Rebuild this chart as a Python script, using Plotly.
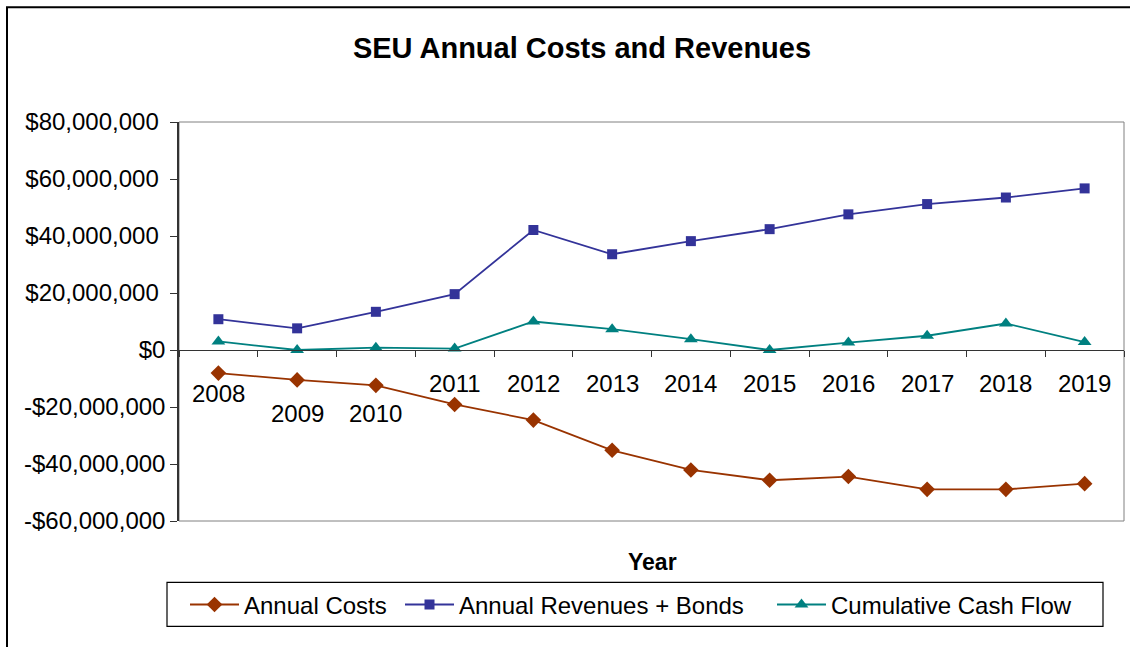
import plotly.graph_objects as go

years = ["2008", "2009", "2010", "2011", "2012", "2013", "2014", "2015", "2016", "2017", "2018", "2019"]
annual_costs = [-8.1e6, -10.5e6, -12.4e6, -19.1e6, -24.6e6, -35.2e6, -42.1e6, -45.7e6, -44.4e6, -48.9e6, -48.9e6, -46.9e6]
annual_revenues_bonds = [10.8e6, 7.6e6, 13.4e6, 19.6e6, 42.1e6, 33.6e6, 38.2e6, 42.4e6, 47.6e6, 51.2e6, 53.5e6, 56.7e6]
cumulative_cash_flow = [3.0e6, 0.0, 0.8e6, 0.5e6, 10.0e6, 7.3e6, 3.8e6, 0.0, 2.6e6, 5.0e6, 9.3e6, 2.8e6]
y_tick_vals = [-60e6, -40e6, -20e6, 0, 20e6, 40e6, 60e6, 80e6]
y_tick_text = ["-$60,000,000", "-$40,000,000", "-$20,000,000", "$0",
               "$20,000,000\u00a0", "$40,000,000\u00a0", "$60,000,000\u00a0", "$80,000,000\u00a0"]

FONT = "Liberation Sans, Arial, sans-serif"
W, H = 1130, 647
ML, MR, MT, MB = 179, 6, 122, 125.5
PW = W - ML - MR
PH = H - MT - MB

def px_x(px):
    return (px - ML) / PW

def px_y(py):
    return (H - MB - py) / PH

x_range = [-0.5, len(years) - 0.5]
ymin, ymax = -60e6, 80e6

fig = go.Figure()
fig.add_trace(go.Scatter(
    x=years, y=annual_costs, name="Annual Costs", mode="lines+markers",
    line=dict(color="#993300", width=1.8),
    marker=dict(symbol="diamond", size=12, color="#993300"),
    legend="legend", showlegend=True,
))
fig.add_trace(go.Scatter(
    x=years, y=annual_revenues_bonds, name="Annual Revenues + Bonds", mode="lines+markers",
    line=dict(color="#333399", width=1.8),
    marker=dict(symbol="square", size=10, color="#333399"),
    legend="legend2", showlegend=True,
))
fig.add_trace(go.Scatter(
    x=years, y=cumulative_cash_flow, name="Cumulative Cash Flow", mode="lines+markers",
    line=dict(color="#008080", width=1.8),
    marker=dict(symbol="triangle-up", size=12, color="#008080"),
    legend="legend3", showlegend=True,
))

# category labels placed below the zero axis
label_shift = {"2008": -43, "2009": -63, "2010": -63}
annotations = []
for i, yr in enumerate(years):
    annotations.append(dict(
        x=(i - x_range[0]) / (x_range[1] - x_range[0]), xref="paper",
        y=0, yref="y", text=yr, showarrow=False,
        yshift=label_shift.get(yr, -33), xanchor="center", yanchor="middle",
        font=dict(family=FONT, size=24, color="black"),
    ))
annotations.append(dict(
    x=px_x(652.5), y=px_y(563), xref="paper", yref="paper", text="<b>Year</b>",
    showarrow=False, xanchor="center", yanchor="middle",
    font=dict(family=FONT, size=23, color="black"),
))

def leg(px_left):
    return dict(orientation="h", x=px_x(px_left), y=px_y(605.5), xanchor="left", yanchor="middle",
                borderwidth=0, bgcolor="rgba(0,0,0,0)", visible=True,
                font=dict(family=FONT, size=24, color="black"), itemwidth=49)

fig.update_layout(
    width=W, height=H,
    showlegend=True,
    margin=dict(l=ML, r=MR, t=MT, b=MB),
    paper_bgcolor="white", plot_bgcolor="white",
    title=dict(text="<b>SEU Annual Costs and Revenues</b>", x=582 / W, xanchor="center",
               xref="container", y=1 - 48 / H, yanchor="middle", yref="container",
               font=dict(family=FONT, size=29, color="black")),
    xaxis=dict(type="category", range=x_range, showgrid=False,
               showticklabels=False, ticks="outside", ticklen=6, tickcolor="#333333",
               tickson="boundaries", showline=True, linecolor="#333333", linewidth=1,
               anchor="free", position=(0 - ymin) / (ymax - ymin), zeroline=False),
    yaxis=dict(range=[ymin, ymax], tickvals=y_tick_vals, ticktext=y_tick_text,
               showgrid=False, zeroline=False, ticks="outside", ticklen=7,
               tickcolor="#333333", showline=True, linecolor="#333333", linewidth=1.5,
               tickfont=dict(family=FONT, size=24, color="black")),
    legend=leg(185),
    legend2=leg(400),
    legend3=leg(772),
    annotations=annotations,
    shapes=[
        dict(type="rect", xref="paper", yref="paper", x0=0, x1=1, y0=0, y1=1,
             line=dict(color="#808080", width=1), layer="below"),
        dict(type="rect", xref="paper", yref="paper", x0=px_x(167), x1=px_x(1103),
             y0=px_y(627), y1=px_y(583), line=dict(color="black", width=1.2)),
        dict(type="rect", xref="paper", yref="paper", x0=px_x(7), x1=px_x(1160),
             y0=px_y(680), y1=px_y(7), line=dict(color="black", width=2)),
    ],
)

fig.write_html("out.html")
